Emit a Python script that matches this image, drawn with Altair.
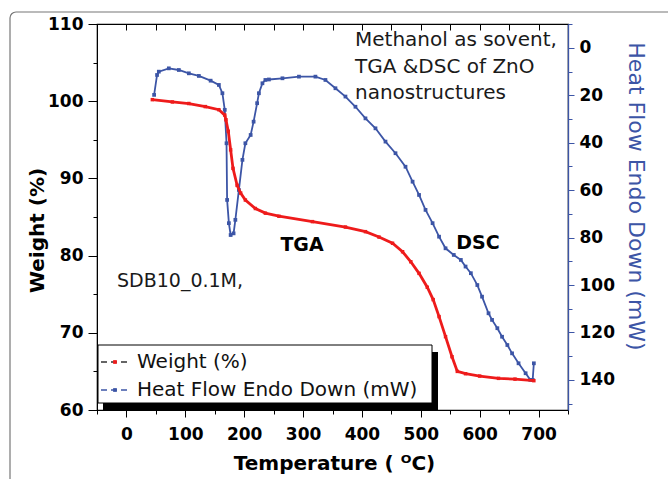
import altair as alt
import pandas as pd

# ---------------- data ----------------
tga_temp = [44, 78, 106, 134, 157, 167, 169, 173, 177, 181, 188, 194, 202, 219, 236, 259,
            316, 372, 406, 429, 452, 469, 483, 497, 511, 521, 531, 542, 553, 562, 576, 600, 632, 660, 692]
tga_weight = [100.2, 99.9, 99.7, 99.3, 98.9, 98.2, 97.6, 96.1, 93.7, 91.3, 89.1, 88.1, 87.2, 86.1, 85.5, 85.1,
              84.4, 83.7, 83.1, 82.4, 81.6, 80.5, 79.2, 77.7, 75.9, 74.3, 72.1, 69.5, 66.9, 65.0, 64.7, 64.4,
              64.1, 64.0, 63.8]

dsc_temp = [47, 52, 55, 72, 89, 106, 123, 143, 157, 163, 167, 170, 171, 174, 177, 182, 185, 191, 197, 202,
            211, 216, 222, 225, 231, 236, 242, 265, 293, 321, 338, 355, 372, 389, 406, 423, 440, 457, 474,
            486, 497, 508, 520, 531, 542, 556, 568, 576, 585, 596, 604, 615, 621, 630, 638, 647,
            655, 666, 678, 686, 690, 692]
dsc_heat = [19.8, 11.4, 10.0, 8.6, 9.3, 10.7, 11.8, 13.8, 15.6, 19.1, 26.1, 40.2, 64.1, 73.9, 78.9, 78.2,
            72.5, 59.9, 47.2, 40.2, 36.7, 31.1, 23.3, 19.1, 14.9, 13.5, 13.3, 12.8, 12.1, 12.1, 13.5, 17.0,
            20.5, 24.8, 29.7, 33.9, 39.5, 44.4, 50.1, 56.4, 62.0, 68.3, 73.9, 79.6, 84.5, 87.3, 89.4,
            92.2, 95.0, 100.0, 104.9, 111.9, 114.7, 118.2, 121.8, 125.3, 128.8, 133.0, 137.2, 140.0,
            140.0, 133.0]

x_ticks = [0, 100, 200, 300, 400, 500, 600, 700]
x_minor = [-50, 50, 150, 250, 350, 450, 550, 650, 750]
x_top = [-50, 0, 50, 100, 150, 200, 250, 300, 350, 400, 450, 500, 550, 600, 650, 700, 750]
left_ticks = [60, 70, 80, 90, 100, 110]
left_minor = [65, 75, 85, 95, 105]
right_ticks = [0, 20, 40, 60, 80, 100, 120, 140]
right_minor = [-10, 10, 30, 50, 70, 90, 110, 130, 150]

series_names = ["Weight (%)", "Heat Flow Endo Down (mW)"]
x_title = "Temperature ( ᴼC)"
notes = ["Methanol as sovent,", "TGA &DSC of ZnO", "nanostructures"]

tga = pd.DataFrame({"T": tga_temp, "W": tga_weight, "i": range(len(tga_temp))})
dsc = pd.DataFrame({"T": dsc_temp, "H": dsc_heat, "i": range(len(dsc_temp))})
one = pd.DataFrame({"k": [0]})

# ---------------- styling ----------------
W, H = 471, 386
PL, PT = 97, 24
FONT = "DejaVu Sans"
RED = "#ee1b1b"
BLUE = "#3c55a6"

xs = alt.Scale(domain=[-50, 750], nice=False, zero=False)
yl = alt.Scale(domain=[60, 110], nice=False, zero=False)
yr = alt.Scale(domain=[-10.1, 152.7], nice=False, zero=False, reverse=True)

x_axis = alt.Axis(values=x_ticks, orient="bottom", grid=False, title=x_title,
                  labelFont=FONT, labelFontWeight="bold", labelFontSize=17, labelColor="black",
                  labelPadding=9, labelFlush=False, tickSize=7, tickColor="black", tickWidth=1,
                  domainColor="black", titleFont=FONT, titleFontSize=20, titleFontWeight="bold",
                  titleColor="black", titleX=237, titleY=53, titleAlign="center", titleBaseline="middle")
yl_axis = alt.Axis(values=left_ticks, orient="left", grid=False, title=series_names[0],
                   labelFont=FONT, labelFontWeight="bold", labelFontSize=17, labelColor="black",
                   labelPadding=5, labelFlush=False, tickSize=9, tickColor="black",
                   domainColor="black", titleFont=FONT, titleFontSize=20, titleFontWeight="bold",
                   titleColor="black", titleAngle=270, titleX=-60, titleY=206,
                   titleAlign="center", titleBaseline="middle")
yr_axis = alt.Axis(values=right_ticks, orient="right", grid=False, title=series_names[1],
                   labelFont=FONT, labelFontWeight="bold", labelFontSize=17, labelColor="black",
                   labelPadding=5, labelFlush=False, tickSize=6, tickColor=BLUE,
                   domainColor=BLUE, domainWidth=1.3, titleFont=FONT, titleFontSize=22,
                   titleFontWeight="normal", titleColor=BLUE, titleAngle=90, titleX=67, titleY=172,
                   titleAlign="center", titleBaseline="middle")

red_line = alt.Chart(tga).mark_line(color=RED, strokeWidth=2.8).encode(
    x=alt.X("T:Q", scale=xs, axis=x_axis),
    y=alt.Y("W:Q", scale=yl, axis=yl_axis),
    order="i:Q")
red_pts = alt.Chart(tga).mark_square(color=RED, size=12, opacity=1).encode(
    x=alt.X("T:Q", scale=xs, axis=None),
    y=alt.Y("W:Q", scale=yl, axis=None))

blue_line = alt.Chart(dsc).mark_line(color=BLUE, strokeWidth=1.8).encode(
    x=alt.X("T:Q", scale=xs, axis=None),
    y=alt.Y("H:Q", scale=yr, axis=yr_axis),
    order="i:Q")
blue_pts = alt.Chart(dsc).mark_square(color=BLUE, size=14, opacity=1).encode(
    x=alt.X("T:Q", scale=xs, axis=None),
    y=alt.Y("H:Q", scale=yr, axis=None))

# minor / mirrored ticks
minor_bl = alt.Chart(tga).mark_point(opacity=0).encode(
    x=alt.X("T:Q", scale=xs, axis=alt.Axis(values=x_minor, orient="bottom", labels=False, domain=False,
                                           grid=False, tickSize=4, tickColor="black", title=None)),
    y=alt.Y("W:Q", scale=yl, axis=alt.Axis(values=left_minor, orient="left", labels=False, domain=False,
                                           grid=False, tickSize=4, tickColor="black", title=None)))
top_ticks = alt.Chart(tga).mark_point(opacity=0).encode(
    x=alt.X("T:Q", scale=xs, axis=alt.Axis(values=x_top, orient="top", labels=False, domain=False,
                                           grid=False, tickSize=6, tickColor="black", offset=-6,
                                           title=None)),
    y=alt.Y("W:Q", scale=yl, axis=None))
minor_r = alt.Chart(dsc).mark_point(opacity=0).encode(
    x=alt.X("T:Q", scale=xs, axis=None),
    y=alt.Y("H:Q", scale=yr, axis=alt.Axis(values=right_minor, orient="right", labels=False, domain=False,
                                           grid=False, tickSize=4, tickColor=BLUE, title=None)))

# annotations (pixel positions relative to plot area)
def label(txt, px, py, size=20, weight="normal", align="left", color="#1a1a1a"):
    return alt.Chart(one).mark_text(text=txt, font=FONT, fontSize=size, fontWeight=weight,
                                    align=align, baseline="middle", color=color).encode(
        x=alt.value(px - PL), y=alt.value(py - PT))

ann = [label(notes[0], 355, 40), label(notes[1], 355, 67), label(notes[2], 355, 93),
       label("TGA", 302, 245, 19, "bold", "center", "black"),
       label("DSC", 478, 243, 19, "bold", "center", "black"),
       label("SDB10_0.1M,", 117, 281, 19)]

# legend drawn by hand
shadow = alt.Chart(one).mark_rect(fill="black").encode(
    x=alt.value(103 - PL), x2=alt.value(438 - PL), y=alt.value(352 - PT), y2=alt.value(410 - PT))
box = alt.Chart(one).mark_rect(fill="white", stroke="black", strokeWidth=1).encode(
    x=alt.value(98 - PL), x2=alt.value(432 - PL), y=alt.value(345 - PT), y2=alt.value(403 - PT))
sym1 = alt.Chart(one).mark_rule(color="#333333", strokeDash=[6, 4], strokeWidth=1.3).encode(
    x=alt.value(101 - PL), x2=alt.value(130 - PL), y=alt.value(362 - PT))
dot1 = alt.Chart(one).mark_square(color=RED, size=14, opacity=1).encode(
    x=alt.value(115 - PL), y=alt.value(362 - PT))
sym2 = alt.Chart(one).mark_rule(color=BLUE, strokeDash=[6, 4], strokeWidth=1.3).encode(
    x=alt.value(101 - PL), x2=alt.value(130 - PL), y=alt.value(390 - PT))
dot2 = alt.Chart(one).mark_square(color=BLUE, size=14, opacity=1).encode(
    x=alt.value(115 - PL), y=alt.value(390 - PT))
leg_t1 = label(series_names[0], 137, 362, 20, color="#111111")
leg_t2 = label(series_names[1], 137, 390, 20, color="#111111")

frame = alt.Chart(one).mark_rect(fillOpacity=0, stroke="#777777", strokeWidth=1.2, cornerRadius=6).encode(
    x=alt.value(10 - PL), x2=alt.value(700 - PL), y=alt.value(12 - PT), y2=alt.value(520 - PT))

chart = alt.layer(
    frame, minor_bl, top_ticks, minor_r,
    blue_line, blue_pts, red_line, red_pts,
    *ann, shadow, box, sym1, dot1, sym2, dot2, leg_t1, leg_t2
).resolve_scale(y="independent").resolve_axis(x="independent", y="independent").properties(
    width=W, height=H,
    autosize=alt.AutoSizeParams(type="none"),
    padding={"left": PL, "top": PT, "right": 668 - PL - W, "bottom": 479 - PT - H},
    background="white"
).configure_view(stroke="black", strokeWidth=1.2)

chart.save("out.html", embed_options={"renderer": "svg", "actions": False})
